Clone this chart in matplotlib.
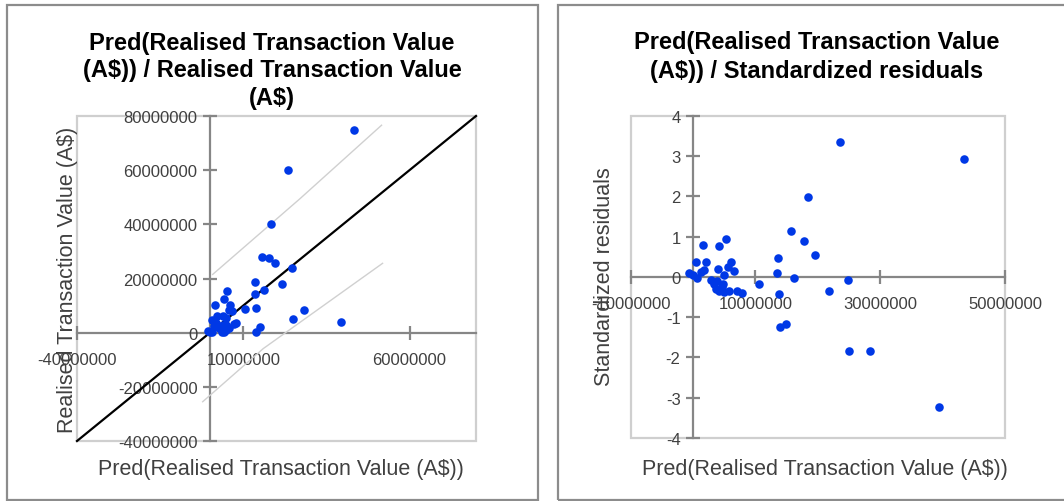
import matplotlib
matplotlib.use("Agg")
import matplotlib.pyplot as plt
from matplotlib.patches import Rectangle
from matplotlib.ticker import FuncFormatter

plt.rcParams['font.family'] = ['Liberation Sans', 'DejaVu Sans']
plt.rcParams['axes.unicode_minus'] = False

# values in millions of A$
pred = [1.6, 4.1, 5.2, 0.5, 2.0, 6.1, 5.6, 4.0, 6.5, 1.8, 1.2, -0.6, 0.0, 0.6,
        4.9, 2.8, 3.4, 3.9, 4.8, 3.6, 4.1, 4.9, 5.8, 7.1, 7.8, 4.7,
        10.5, 13.6, 13.4, 13.8, 13.9, 14.9, 15.7, 16.2, 17.7, 18.4, 19.6,
        21.8, 23.6, 24.8, 25.0, 28.4, 39.4, 43.4]
actual = [10.3, 12.5, 15.4, 4.6, 6.1, 10.2, 8.3, 6.1, 8.0, 3.5, 2.4, 0.5, 0.4, 0.4,
          5.3, 1.9, 1.5, 2.7, 2.9, 0.4, 0.2, 0.9, 1.9, 3.2, 3.4, 2.0,
          8.6, 18.8, 14.4, 9.2, 0.4, 2.1, 28.0, 15.8, 27.5, 40.0, 25.6,
          17.9, 60.0, 24.0, 5.0, 8.5, 4.1, 75.0]
std_resid = [0.80, 0.77, 0.94, 0.38, 0.38, 0.38, 0.25, 0.19, 0.14, 0.16, 0.11, 0.10, 0.04, -0.02,
             0.04, -0.08, -0.17, -0.11, -0.17, -0.29, -0.36, -0.37, -0.36, -0.36, -0.40, -0.25,
             -0.17, 0.48, 0.09, -0.42, -1.24, -1.17, 1.13, -0.04, 0.90, 1.98, 0.55,
             -0.36, 3.34, -0.07, -1.83, -1.83, -3.22, 2.92]

diag_x = [-40, 80]
diag_y = [-40, 80]
upper_x = [0.8, 27, 51.6]
upper_y = [21.5, 49.4, 76.6]
lower_x = [-2.2, 16, 51.9]
lower_y = [-25.5, -5.9, 25.6]

left_xticks = [-40, 10, 60]
left_yticks = [-40, -20, 0, 20, 40, 60, 80]
right_xticks = [-10, 10, 30, 50]
right_yticks = [-4, -3, -2, -1, 0, 1, 2, 3, 4]

title_left = "Pred(Realised Transaction Value\n(A$)) / Realised Transaction Value\n(A$)"
title_right = "Pred(Realised Transaction Value\n(A$)) / Standardized residuals"
xlab = "Pred(Realised Transaction Value (A$))"

W, H = 1064, 502
fig = plt.figure(figsize=(W / 100, H / 100), dpi=100)

def fx(px):
    return px / W

def fy(py):
    return 1 - py / H

# outer panel frames
for x0, x1 in [(7, 538), (558, 1075)]:
    fig.patches.append(Rectangle((fx(x0), fy(500.5)), fx(x1 - x0), (500.5 - 5.5) / H,
                                 transform=fig.transFigure, fill=False,
                                 ec='#8c8c8c', lw=1.6))

axis_col = '#868686'
text_col = '#404040'
dot_col = '#0038e6'
millions = FuncFormatter(lambda v, p: "%d" % round(v * 1e6))

def style(ax, xlim, ylim, xt, yt):
    ax.set_xlim(*xlim)
    ax.set_ylim(*ylim)
    ax.set_xticks(xt)
    ax.set_yticks(yt)
    for s in ['top', 'right']:
        ax.spines[s].set_visible(False)
    for s in ['left', 'bottom']:
        ax.spines[s].set_position(('data', 0))
        ax.spines[s].set_color(axis_col)
        ax.spines[s].set_linewidth(1.6)
        ax.spines[s].set_zorder(1)
    ax.add_patch(Rectangle((0, 0), 1, 1, transform=ax.transAxes, fill=False,
                           ec='#cfcfcf', lw=1.6, clip_on=False, zorder=0.5))
    ax.tick_params(direction='inout', length=10, width=1.6, color=axis_col,
                   labelsize=12, labelcolor=text_col)
    ax.tick_params(axis='x', pad=9)
    ax.tick_params(axis='y', pad=4)

# left: predicted vs actual
ax1 = fig.add_axes([fx(77), fy(442), fx(476 - 77), (442 - 117) / H])
style(ax1, (-40, 80), (-40, 80), left_xticks, left_yticks)
ax1.xaxis.set_major_formatter(millions)
ax1.yaxis.set_major_formatter(millions)
ax1.plot(upper_x, upper_y, color='#d0d0d0', lw=1, zorder=2)
ax1.plot(lower_x, lower_y, color='#d0d0d0', lw=1, zorder=2)
ax1.plot(diag_x, diag_y, color='black', lw=1.6, zorder=3, clip_on=False)
ax1.scatter(pred, actual, s=38, color=dot_col, zorder=4, linewidths=0)

# right: predicted vs standardized residuals
ax2 = fig.add_axes([fx(630.7), fy(439), fx(1005 - 630.7), (439 - 116.7) / H])
style(ax2, (-10, 50), (-4, 4), right_xticks, right_yticks)
ax2.xaxis.set_major_formatter(millions)
ax2.scatter(pred, std_resid, s=38, color=dot_col, zorder=4, linewidths=0)

# titles and axis labels
fig.text(fx(272), fy(71), title_left, ha='center', va='center',
         fontsize=17, fontweight='bold', color='black', linespacing=1.27)
fig.text(fx(817), fy(57), title_right, ha='center', va='center',
         fontsize=17, fontweight='bold', color='black', linespacing=1.3)
fig.text(fx(281), fy(470), xlab, ha='center', va='center', fontsize=15.5, color=text_col)
fig.text(fx(825), fy(470), xlab, ha='center', va='center', fontsize=15.5, color=text_col)
fig.text(fx(68), fy(280), "Realised Transaction Value (A$)", ha='center', va='center',
         rotation=90, fontsize=15.5, color=text_col)
fig.text(fx(604), fy(277), "Standardized residuals", ha='center', va='center',
         rotation=90, fontsize=15.5, color=text_col)

fig.savefig("out.png", dpi=100)
